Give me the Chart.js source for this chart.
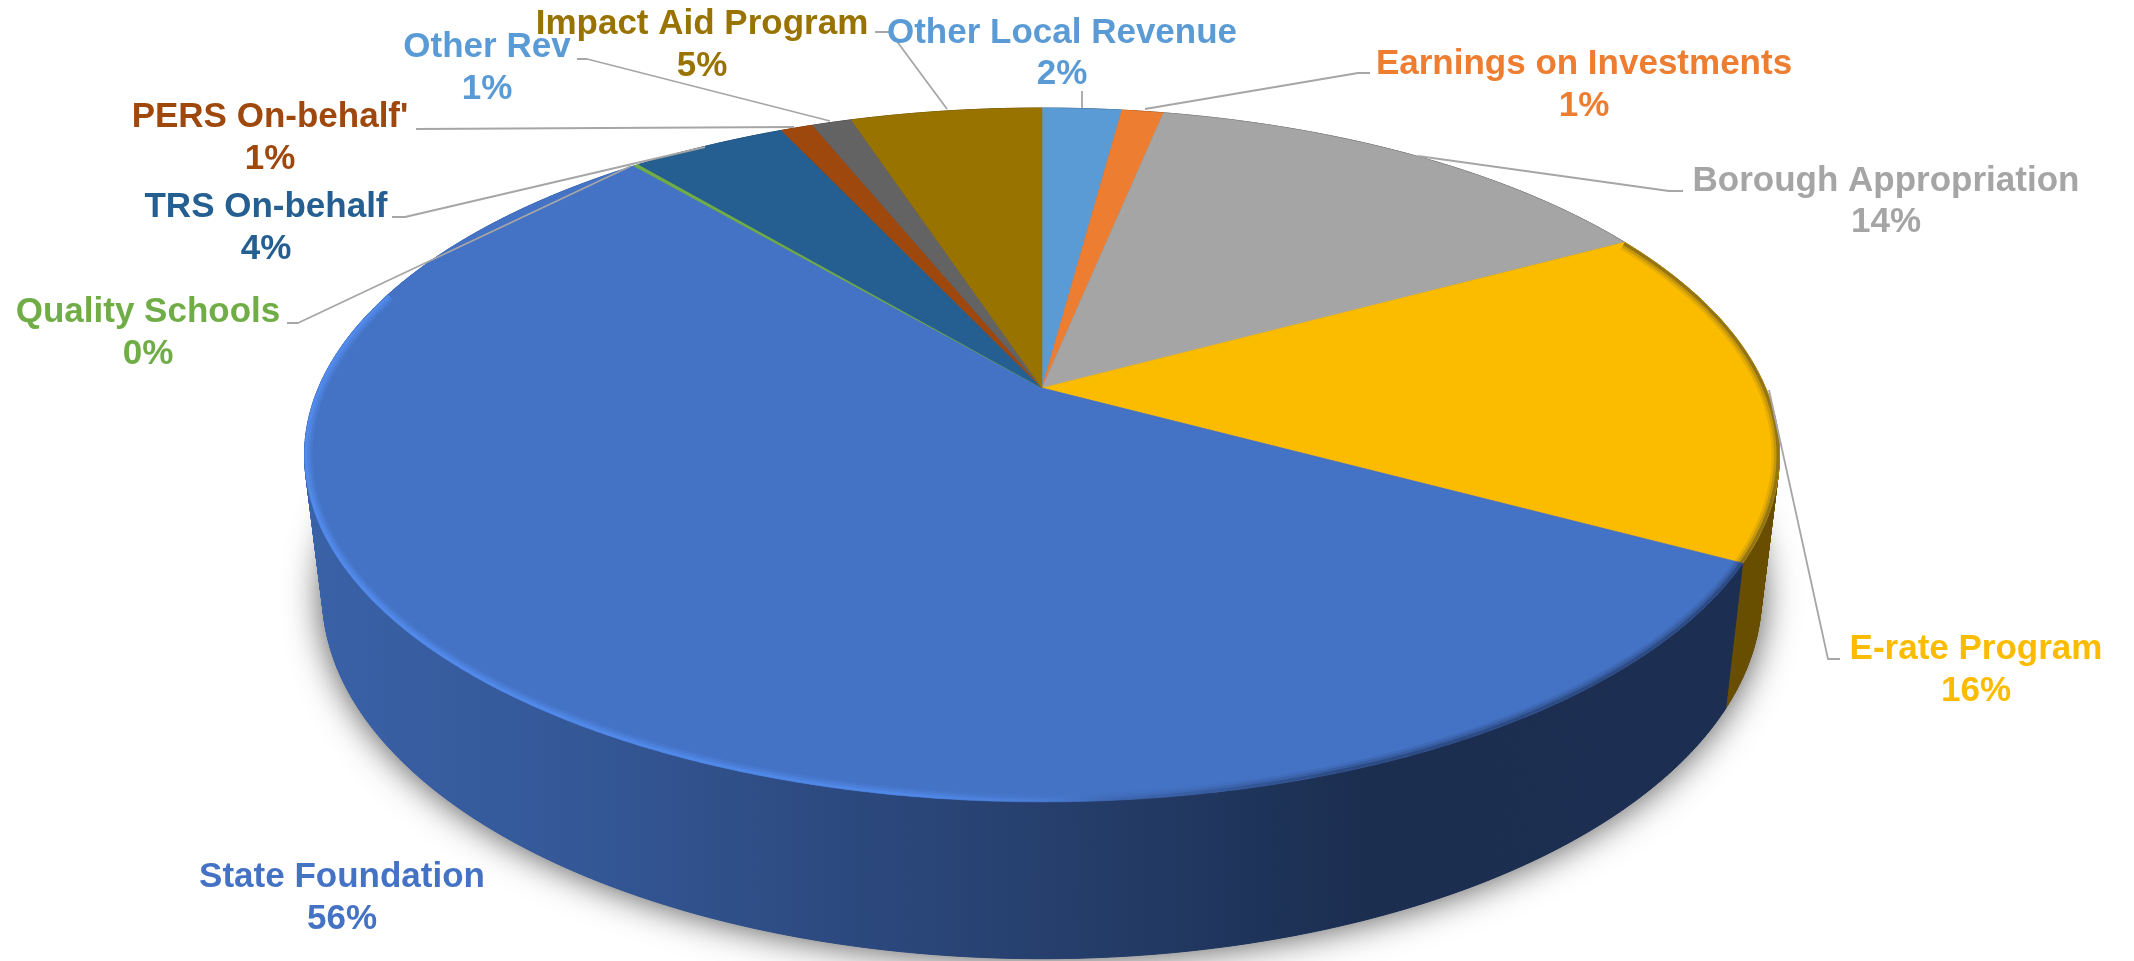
<!DOCTYPE html>
<html>
<head>
<meta charset="utf-8">
<title>Revenue pie</title>
<script src="https://cdn.jsdelivr.net/npm/chart.js@4/dist/chart.umd.js"></script>
<style>
  html, body { margin: 0; background: #fff; }
  #wrap { width: 2134px; height: 961px; }
</style>
</head>
<body>
<div id="wrap"><canvas id="myChart" width="2134" height="961"></canvas></div>
<script>
const categories = ['Other Local Revenue', 'Earnings on Investments', 'Borough Appropriation', 'E-rate Program',
  'State Foundation', 'Quality Schools', 'TRS On-behalf', "PERS On-behalf'", 'Other Rev', 'Impact Aid Program'];
const shares = [2.1, 1.1, 13.9, 15.8, 55.9, 0.15, 4.1, 0.85, 1.05, 5.05];
const sliceColors = ['#5B9BD5', '#ED7D31', '#A5A5A5', '#FBBC00', '#4472C4', '#70AD47', '#255E91', '#9E480E', '#636363', '#997300'];
const labelColors = ['#5B9BD5', '#ED7D31', '#A5A5A5', '#FBBC00', '#4472C4', '#70AD47', '#255E91', '#9E480E', '#5B9BD5', '#997300'];

// label centres, one per category: [x, first line y, second line y]
const labelSpots = [[1062, 33, 74], [1584, 64, 106], [1886, 181, 222], [1976, 649, 691], [342, 877, 919],
  [148, 312, 354], [266, 207, 249], [270, 117, 159], [487, 47, 89], [702, 24, 66]];
// leader lines, one per category
const leaders = [
  [[1082, 91], [1082, 108]],
  [[1370, 73], [1358, 73], [1145, 109]],
  [[1683, 191], [1669, 191], [1418, 156]],
  [[1840, 659], [1828, 659], [1769, 390]],
  [],
  [[287, 323], [298, 323], [631, 166]],
  [[392, 217], [405, 217], [705, 147]],
  [[416, 129], [794, 127]],
  [[577, 59], [587, 59], [830, 121]],
  [[875, 32], [890, 32], [947, 109]]
];

// fake 3d: the flat pie is pushed through a perspective, top face then lower rim
const TOP = { a: 723.6, b: 334, p: 0.193, dy: 0 };
const BASE = { a: 706, b: 350, p: 0.193, dy: 137 };

function project(el, angle, f) {
  const u = Math.cos(angle), v = Math.sin(angle), w = 1 - f.p * v;
  return [el.x + f.a * u / w, el.y + f.dy + f.b * v / w];
}
function shade(hex, k) {
  const n = parseInt(hex.slice(1), 16);
  return `rgb(${(n >> 16) * k | 0},${((n >> 8) & 255) * k | 0},${(n & 255) * k | 0})`;
}
function rim(el, f, from, to) {
  const steps = Math.max(2, Math.ceil(Math.abs(to - from) * 120)), pts = [];
  for (let i = 0; i <= steps; i++) pts.push(project(el, from + (to - from) * i / steps, f));
  return pts;
}
function trace(ctx, pts) {
  pts.forEach((p, i) => i ? ctx.lineTo(p[0], p[1]) : ctx.moveTo(p[0], p[1]));
}

const pie3d = {
  id: 'pie3d',
  beforeDatasetsDraw(chart) {
    const ctx = chart.ctx, arcs = chart.getDatasetMeta(0).data, first = arcs[0];
    ctx.save();

    // soft shadow under the base
    ctx.save();
    ctx.shadowColor = 'rgba(0,0,0,0.7)';
    ctx.shadowBlur = 36;
    ctx.fillStyle = '#3a5fa0';
    ctx.beginPath();
    trace(ctx, rim(first, BASE, 0, Math.PI * 2));
    ctx.closePath();
    ctx.fill();
    ctx.restore();

    // side wall, quad by quad: one band polygon folds over itself at the silhouette
    arcs.forEach((el, i) => {
      const g = ctx.createLinearGradient(305, 0, 1780, 0), c = sliceColors[i];
      g.addColorStop(0, shade(c, 0.86));
      g.addColorStop(0.19, shade(c, 0.77));
      g.addColorStop(0.5, shade(c, 0.56));
      g.addColorStop(0.72, shade(c, 0.41));
      g.addColorStop(1, shade(c, 0.42));
      const topPts = rim(el, TOP, el.startAngle, el.endAngle);
      const basePts = rim(el, BASE, el.startAngle, el.endAngle);
      ctx.fillStyle = g;
      ctx.strokeStyle = g;
      ctx.lineWidth = 1;
      for (let k = 0; k < topPts.length - 1; k++) {
        ctx.beginPath();
        trace(ctx, [topPts[k], topPts[k + 1], basePts[k + 1], basePts[k]]);
        ctx.closePath();
        ctx.fill();
        ctx.stroke();
      }
    });

    // top face
    arcs.forEach((el, i) => {
      ctx.fillStyle = sliceColors[i];
      ctx.strokeStyle = sliceColors[i];
      ctx.lineWidth = 0.6;
      ctx.lineJoin = 'round';
      ctx.beginPath();
      trace(ctx, [[el.x, el.y]].concat(rim(el, TOP, el.startAngle, el.endAngle)));
      ctx.closePath();
      ctx.fill();
      ctx.stroke();
    });

    // bevel on the front rim: light on the left, dark on the right
    ctx.save();
    ctx.beginPath();
    trace(ctx, rim(first, TOP, 0, Math.PI * 2));
    ctx.closePath();
    ctx.clip();
    const front = rim(first, TOP, arcs[3].startAngle, Math.PI + 0.3);
    const light = ctx.createLinearGradient(305, 0, 1110, 0);
    light.addColorStop(0, 'rgba(82,140,238,0.9)');
    light.addColorStop(0.75, 'rgba(82,140,238,0.7)');
    light.addColorStop(1, 'rgba(82,140,238,0)');
    const dark = ctx.createLinearGradient(1050, 0, 1350, 0);
    dark.addColorStop(0, 'rgba(15,25,50,0)');
    dark.addColorStop(1, 'rgba(15,25,50,0.3)');
    [[16, 0.3], [11, 0.5], [6, 0.9]].forEach(([w, alpha]) => {
      ctx.lineWidth = w;
      ctx.globalAlpha = alpha;
      ctx.beginPath();
      trace(ctx, front);
      ctx.strokeStyle = light;
      ctx.stroke();
      ctx.strokeStyle = dark;
      ctx.stroke();
    });
    ctx.restore();

    // leaders and labels
    ctx.strokeStyle = '#A6A6A6';
    ctx.lineWidth = 1.8;
    leaders.forEach(line => {
      if (!line.length) return;
      ctx.beginPath();
      trace(ctx, line);
      ctx.stroke();
    });
    const total = shares.reduce((s, x) => s + x, 0);
    ctx.font = 'bold 35px "Liberation Sans", Arial, sans-serif';
    ctx.textAlign = 'center';
    ctx.textBaseline = 'middle';
    categories.forEach((name, i) => {
      const [x, y1, y2] = labelSpots[i];
      ctx.fillStyle = labelColors[i];
      ctx.fillText(name, x, y1);
      ctx.fillText(Math.round(shares[i] / total * 100) + '%', x, y2);
    });

    ctx.restore();
    return false; // the flat arcs are replaced by the tilted ones above
  }
};

new Chart(document.getElementById('myChart'), {
  type: 'pie',
  data: {
    labels: categories,
    datasets: [{ data: shares, backgroundColor: sliceColors, borderWidth: 0 }]
  },
  options: {
    responsive: false,
    animation: false,
    layout: { padding: { right: 50, bottom: 185 } },
    plugins: { legend: { display: false }, tooltip: { enabled: false } }
  },
  plugins: [pie3d]
});
</script>
</body>
</html>
